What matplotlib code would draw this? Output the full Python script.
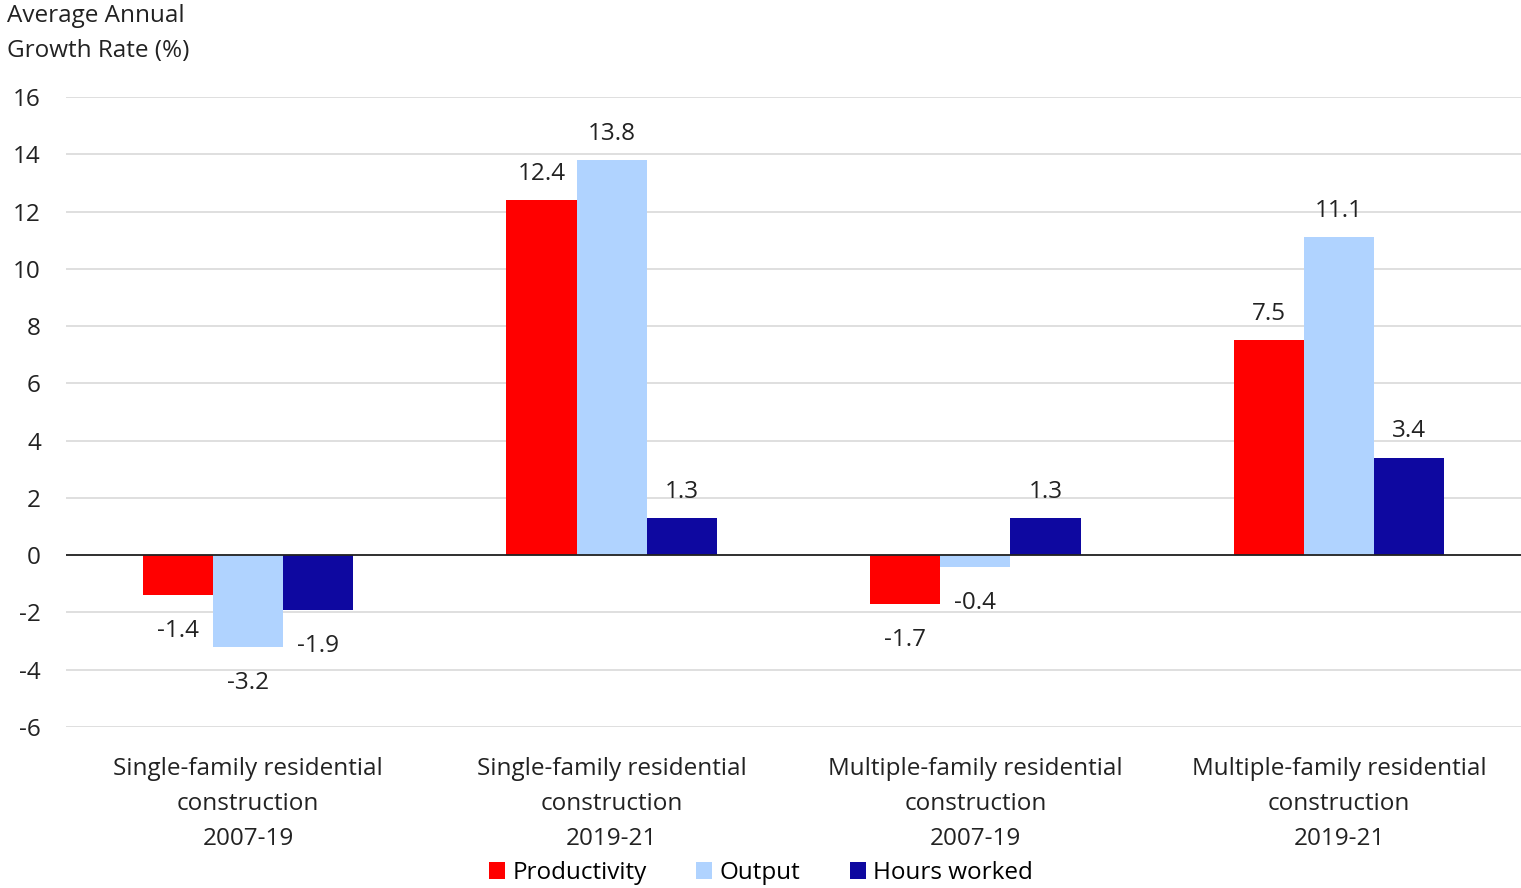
import matplotlib
matplotlib.use("Agg")
import matplotlib.pyplot as plt
import numpy as np

categories = [
    "Single-family residential\nconstruction\n2007-19",
    "Single-family residential\nconstruction\n2019-21",
    "Multiple-family residential\nconstruction\n2007-19",
    "Multiple-family residential\nconstruction\n2019-21",
]
series_names = ["Productivity", "Output", "Hours worked"]
productivity = [-1.4, 12.4, -1.7, 7.5]
output = [-3.2, 13.8, -0.4, 11.1]
hours_worked = [-1.9, 1.3, 1.3, 3.4]
yticks = [-6, -4, -2, 0, 2, 4, 6, 8, 10, 12, 14, 16]

colors = ["#ff0000", "#b0d3ff", "#0e08a0"]
plt.rcParams["font.family"] = ["Open Sans", "DejaVu Sans"]
FS = 17.5
TXT = "#222222"

fig = plt.figure(figsize=(15.21, 8.88), dpi=100)
ax = fig.add_axes([66 / 1521, 1 - 727 / 888, 1455 / 1521, 630 / 888])

x = np.arange(len(categories))
width = 0.193
offsets = [-width, 0, width]
for vals, name, col, off in zip([productivity, output, hours_worked], series_names, colors, offsets):
    bars = ax.bar(x + off, vals, width, color=col, label=name, zorder=3)
    for b, v in zip(bars, vals):
        cx = b.get_x() + b.get_width() / 2
        if v >= 0:
            ax.annotate(f"{v:.1f}", (cx, v), xytext=(0, 19), textcoords="offset points",
                        ha="center", va="center", fontsize=FS, color=TXT)
        else:
            ax.annotate(f"{v:.1f}", (cx, v), xytext=(0, -26), textcoords="offset points",
                        ha="center", va="center", fontsize=FS, color=TXT)

ax.set_xlim(-0.5, 3.5)
ax.set_ylim(-6, 16)
ax.set_yticks(yticks)
ax.set_yticklabels([str(t) for t in yticks], fontsize=FS, color=TXT)
ax.set_xticks(x)
ax.set_xticklabels(categories, fontsize=FS, color=TXT, linespacing=1.62)
ax.tick_params(axis="y", length=0, pad=18)
ax.tick_params(axis="x", length=0, pad=21.5)
for s in ax.spines.values():
    s.set_visible(False)
ax.yaxis.grid(True, color="#d9d9d9", linewidth=1.2, zorder=0)
ax.set_axisbelow(True)
ax.axhline(0, color=TXT, linewidth=1.3, zorder=4)

fig.text(7 / 1521, 1 - 4 / 888, "Average Annual\nGrowth Rate (%)", ha="left", va="top",
         fontsize=FS, color=TXT, linespacing=1.62)

fig.legend(loc="center", bbox_to_anchor=(761 / 1521, 1 - 873 / 888), ncol=3, frameon=False,
           fontsize=FS, handlelength=0.65, handleheight=0.65, handletextpad=0.3, columnspacing=2.05,
           borderaxespad=0)

fig.savefig("out.png", dpi=100)
